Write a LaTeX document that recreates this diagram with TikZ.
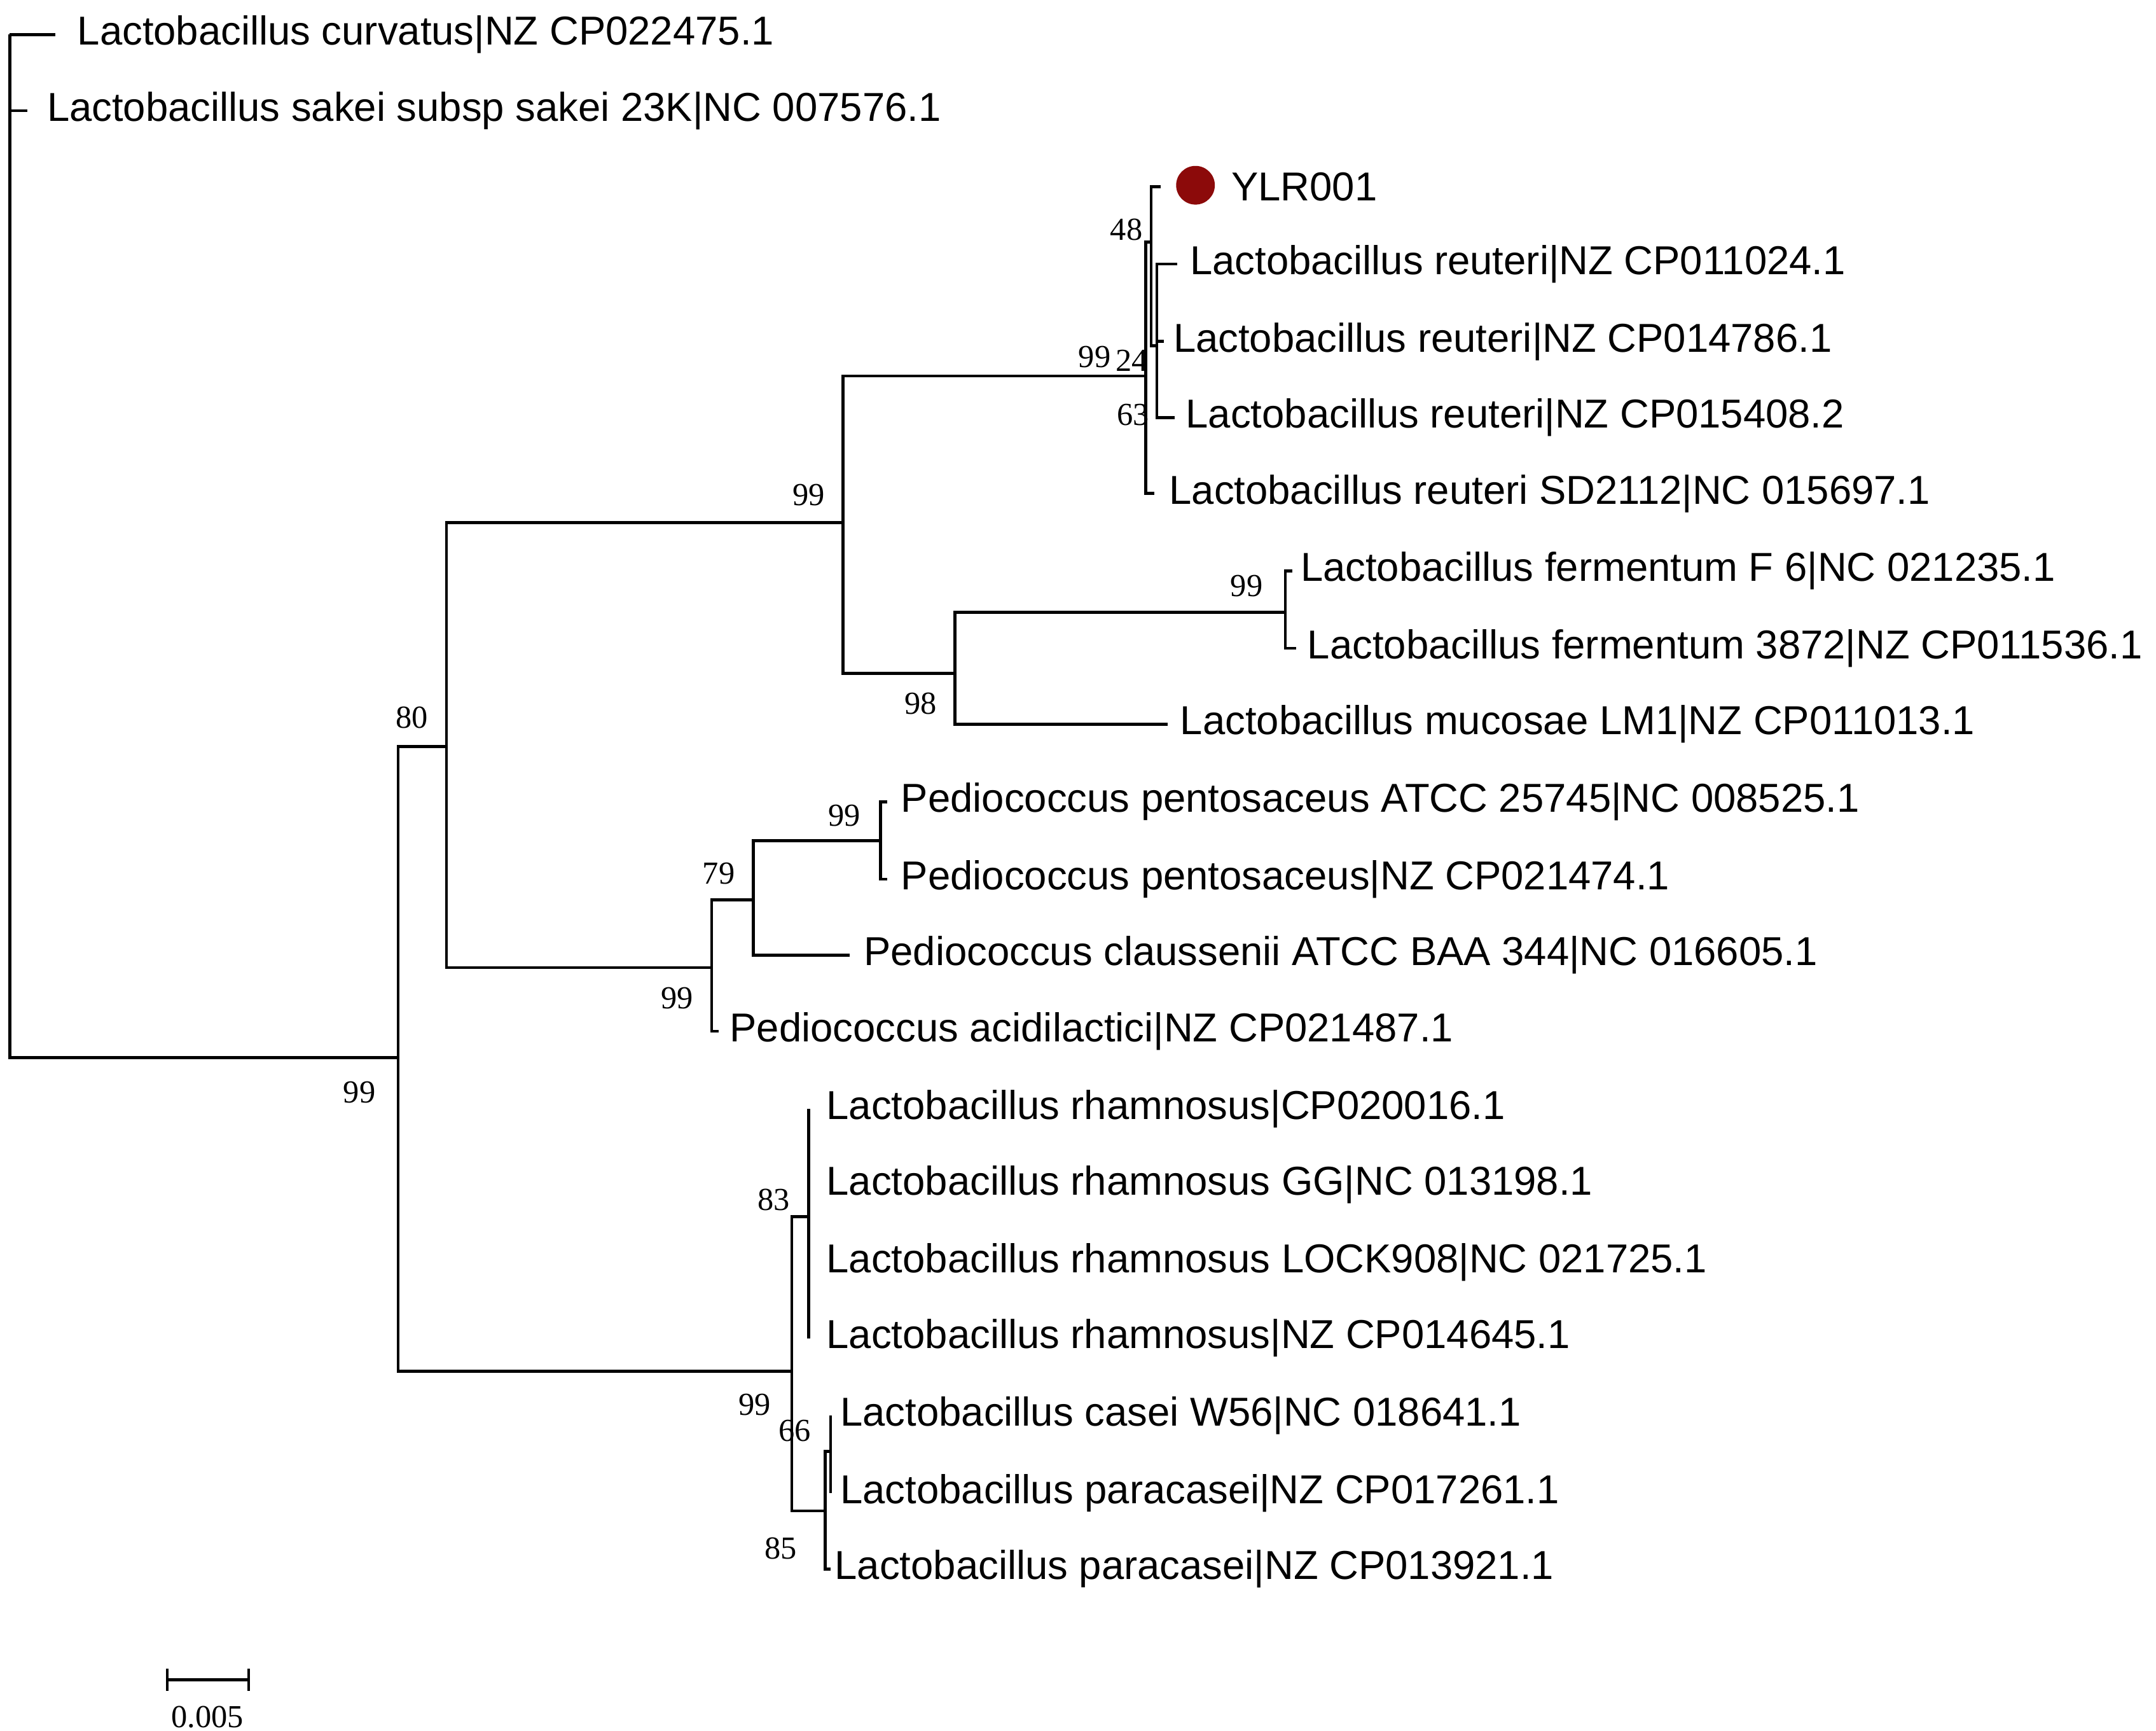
\documentclass[tikz,border=0pt]{standalone}
\usepackage{fontspec}
\setmainfont{Liberation Serif}
\newfontfamily\labfont{Liberation Sans}
\begin{document}
\begin{tikzpicture}[x=0.01cm,y=-0.01cm,line width=0.6pt,
  tip/.style={anchor=west,inner sep=0pt,font=\labfont\fontsize{8.3}{10}\selectfont},
  bs/.style={inner sep=0pt,font=\fontsize{6.6}{8}\selectfont}]
\useasboundingbox[fill=white] (0,0) rectangle (1560,1252);
% tips
\node[tip] (t1) at (55,25) {Lactobacillus curvatus|NZ CP022475.1};
\node[tip] (t2) at (33,80) {Lactobacillus sakei subsp sakei 23K|NC 007576.1};
\node[tip] (t3) at (890,135) {YLR001};
\node[tip] (t4) at (860,191) {Lactobacillus reuteri|NZ CP011024.1};
\node[tip] (t5) at (848,247) {Lactobacillus reuteri|NZ CP014786.1};
\node[tip] (t6) at (857,302) {Lactobacillus reuteri|NZ CP015408.2};
\node[tip] (t7) at (845,357) {Lactobacillus reuteri SD2112|NC 015697.1};
\node[tip] (t8) at (940,413) {Lactobacillus fermentum F 6|NC 021235.1};
\node[tip] (t9) at (945,469) {Lactobacillus fermentum 3872|NZ CP011536.1};
\node[tip] (t10) at (853,524) {Lactobacillus mucosae LM1|NZ CP011013.1};
\node[tip] (t11) at (651,580) {Pediococcus pentosaceus ATCC 25745|NC 008525.1};
\node[tip] (t12) at (651,636) {Pediococcus pentosaceus|NZ CP021474.1};
\node[tip] (t13) at (624,691) {Pediococcus claussenii ATCC BAA 344|NC 016605.1};
\node[tip] (t14) at (527,746) {Pediococcus acidilactici|NZ CP021487.1};
\node[tip] (t15) at (597,802) {Lactobacillus rhamnosus|CP020016.1};
\node[tip] (t16) at (597,857) {Lactobacillus rhamnosus GG|NC 013198.1};
\node[tip] (t17) at (597,913) {Lactobacillus rhamnosus LOCK908|NC 021725.1};
\node[tip] (t18) at (597,968) {Lactobacillus rhamnosus|NZ CP014645.1};
\node[tip] (t19) at (607,1024) {Lactobacillus casei W56|NC 018641.1};
\node[tip] (t20) at (607,1080) {Lactobacillus paracasei|NZ CP017261.1};
\node[tip] (t21) at (603,1135) {Lactobacillus paracasei|NZ CP013921.1};
\fill[fill={rgb,255:red,140;green,10;blue,10}] (865,134) circle (14);
% root
\draw (7,25) -- (7,765) -- (288,765);
\draw (7,25) -- (40,25);
\draw (7,80) -- (20,80);
% A
\draw (323,540) -- (288,540) -- (288,992) -- (573,992);
% B
\draw (610,378) -- (323,378) -- (323,700) -- (515,700);
% C
\draw (829,272) -- (610,272) -- (610,487) -- (691,487);
% reuteri cluster
\draw (833,175) -- (829,175) -- (829,357) -- (835,357);
\draw (840,135) -- (833,135) -- (833,250) -- (837,250);
\draw (852,191) -- (837,191) -- (837,302) -- (850,302);
\draw (837,247) -- (842,247);
% D, E
\draw (930,443) -- (691,443) -- (691,524) -- (845,524);
\draw (935,413) -- (930,413) -- (930,469) -- (938,469);
% F, G, H
\draw (545,651) -- (515,651) -- (515,746) -- (520,746);
\draw (637,608) -- (545,608) -- (545,691) -- (615,691);
\draw (642,580) -- (637,580) -- (637,636) -- (642,636);
% I, J, K, L
\draw (585,880) -- (573,880) -- (573,1093) -- (597,1093);
\draw (585,802) -- (585,968);
\draw (601,1050) -- (597,1050) -- (597,1135) -- (601,1135);
\draw (601,1024) -- (601,1080);
% bootstrap
\node[bs] at (260,790) {99};
\node[bs] at (298,519) {80};
\node[bs] at (585,358) {99};
\node[bs] at (815,166) {48};
\node[bs] at (792,258) {99};
\node[bs] at (819,261) {24};
\node[bs] at (820,300) {63};
\node[bs] at (666,509) {98};
\node[bs] at (902,424) {99};
\node[bs] at (611,590) {99};
\node[bs] at (520,632) {79};
\node[bs] at (490,722) {99};
\node[bs] at (560,868) {83};
\node[bs] at (546,1016) {99};
\node[bs] at (575,1035) {66};
\node[bs] at (565,1120) {85};
% scale bar
\draw (121,1215) -- (180,1215);
\draw (121,1207) -- (121,1223);
\draw (180,1207) -- (180,1223);
\node[bs] (sb) at (150,1242) {0.005};
\end{tikzpicture}
\end{document}
